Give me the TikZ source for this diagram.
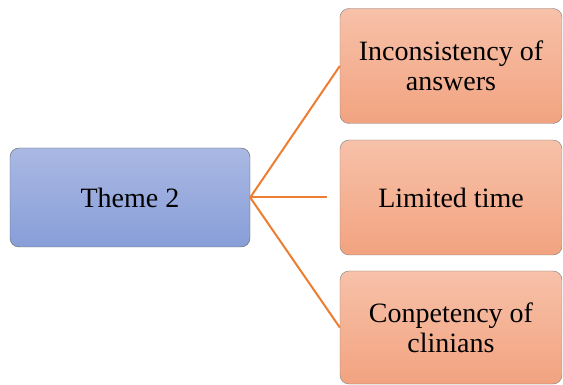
\documentclass[tikz,border=0pt]{standalone}
\usepackage{fontspec}
\setmainfont{Liberation Serif}
\usetikzlibrary{positioning}

\definecolor{themetop}{RGB}{170,184,227}
\definecolor{themebot}{RGB}{136,158,216}
\definecolor{subtop}{RGB}{247,193,169}
\definecolor{subbot}{RGB}{242,163,128}
\definecolor{linkcol}{RGB}{237,125,49}
\definecolor{edgecol}{RGB}{95,95,95}

\begin{document}
\begin{tikzpicture}[x=1pt,y=-1pt,
    themebox/.style={draw=edgecol,thin,rounded corners=9pt,
      top color=themetop,bottom color=themebot,
      minimum width=240pt,minimum height=99pt,align=center,
      font=\fontsize{28}{30}\selectfont},
    subbox/.style={draw=edgecol!80,thin,rounded corners=9pt,
      top color=subtop,bottom color=subbot,
      minimum width=222pt,minimum height=115pt,align=center,
      font=\fontsize{28}{30}\selectfont},
    link/.style={draw=linkcol,line width=2pt}]
      \useasboundingbox (0,0) rectangle (563,385);
      \node[themebox] (theme) at (130,197.5) {Theme 2};
      \node[subbox] (incons) at (451,66) {Inconsistency of\\answers};
      \node[subbox] (limtime) at (451,197.5) {Limited time};
      \node[subbox,minimum height=113pt] (compet) at (451,327.5) {Conpetency of\\clinians};
      \coordinate (midend) at (327,197.5);
      \draw[link] (theme.east) -- (incons.west);
      \draw[link] (theme.east) -- (midend);
      \draw[link] (theme.east) -- (compet.west);
    \end{tikzpicture}
\end{document}
